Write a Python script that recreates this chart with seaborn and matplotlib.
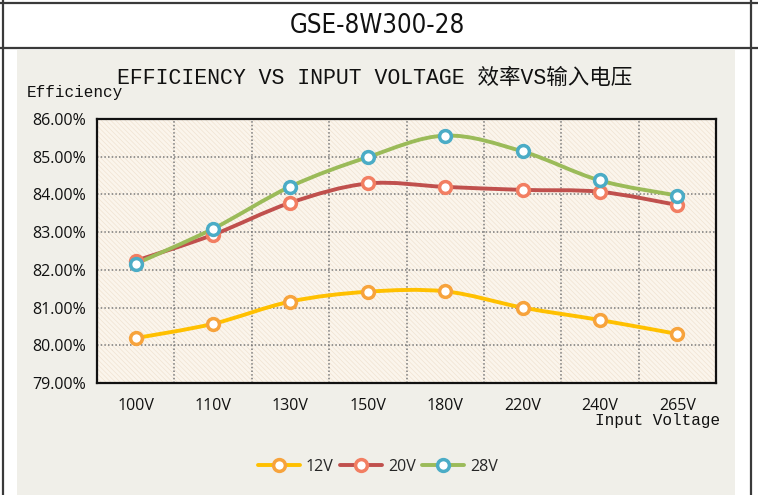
import numpy as np
import pandas as pd
import seaborn as sns
import matplotlib.pyplot as plt
from matplotlib.path import Path
from matplotlib.patches import PathPatch, Rectangle
from matplotlib.lines import Line2D

voltages = ["100V", "110V", "130V", "150V", "180V", "220V", "240V", "265V"]
eff_12v = [80.19, 80.57, 81.16, 81.42, 81.43, 81.00, 80.67, 80.30]
eff_20v = [82.24, 82.93, 83.78, 84.29, 84.20, 84.12, 84.07, 83.72]
eff_28v = [82.16, 83.09, 84.21, 84.99, 85.56, 85.14, 84.37, 83.97]
series_names = ["12V", "20V", "28V"]
y_ticks = [79, 80, 81, 82, 83, 84, 85, 86]

line_colors = {"12V": "#FFC000", "20V": "#C0504D", "28V": "#9BBB59"}
ring_colors = {"12V": "#F7A33C", "20V": "#F27E62", "28V": "#4BACC6"}

df = pd.DataFrame({
    "voltage": voltages * 3,
    "eff": eff_12v + eff_20v + eff_28v,
    "series": [s for s in series_names for _ in voltages],
})

sns.set_style("white")
plt.rcParams["hatch.linewidth"] = 0.5
latin_cjk = ["Liberation Mono", "Noto Sans CJK SC"]

W, H = 758, 495
fig = plt.figure(figsize=(W / 100, H / 100), dpi=100)
fig.patch.set_facecolor("white")

# grey chart panel and table frame
fig.add_artist(Rectangle((17 / W, 0), (735 - 17) / W, 1 - 50 / H,
                         transform=fig.transFigure, facecolor="#F0EFE9",
                         edgecolor="none", zorder=0))
for x in (3, 751):
    fig.add_artist(Line2D([x / W, x / W], [0, 1], transform=fig.transFigure,
                          color="#3A3A3A", lw=1.6))
for y in (3, 48):
    fig.add_artist(Line2D([0, 1], [1 - y / H, 1 - y / H],
                          transform=fig.transFigure, color="#3A3A3A", lw=1.6))

fig.text(377 / W, 1 - 26 / H, "GSE-8W300-28", ha="center", va="center",
         fontsize=18.5, family=["DejaVu Sans"], fontstretch="condensed",
         color="#111111")

ax = fig.add_axes([97 / W, 1 - 383 / H, (716 - 97) / W, (383 - 119) / H])
ax.set_facecolor("#FBF5EC")
ax.add_patch(Rectangle((0, 0), 1, 1, transform=ax.transAxes, fill=False,
                       hatch="\\" * 7, edgecolor="#F0E3D2", lw=0, zorder=0))

# smoothed lines (Excel-style cubic Bezier through the points)
for name, vals in zip(series_names, [eff_12v, eff_20v, eff_28v]):
    pts = np.column_stack([np.arange(len(vals)), vals])
    verts = [tuple(pts[0])]
    codes = [Path.MOVETO]
    n = len(pts)
    for i in range(n - 1):
        p0 = pts[max(i - 1, 0)]
        p1 = pts[i]
        p2 = pts[i + 1]
        p3 = pts[min(i + 2, n - 1)]
        c1 = p1 + (p2 - p0) / 6
        c2 = p2 - (p3 - p1) / 6
        verts += [tuple(c1), tuple(c2), tuple(p2)]
        codes += [Path.CURVE4] * 3
    ax.add_patch(PathPatch(Path(verts, codes), fill=False,
                           edgecolor=line_colors[name], lw=2.8,
                           capstyle="round", zorder=3))

for name in series_names:
    sub = df[df["series"] == name]
    sns.lineplot(data=sub, x="voltage", y="eff", ax=ax, lw=0, marker="o",
                 markersize=8.5, markerfacecolor="white",
                 markeredgecolor=ring_colors[name], markeredgewidth=2.5,
                 zorder=4, legend=False)

ax.set_xlim(-0.5, len(voltages) - 0.5)
ax.set_ylim(79, 86)
ax.set_yticks(y_ticks)
ax.set_yticklabels([f"{v:.2f}%" for v in y_ticks])
ax.set_xlabel("")
ax.set_ylabel("")
for v in y_ticks[1:-1]:
    ax.axhline(v, color="#7A7A7A", lw=1.1, ls=(0, (1.0, 1.4)), zorder=1)
for i in range(len(voltages) - 1):
    ax.axvline(i + 0.5, color="#7A7A7A", lw=1.1, ls=(0, (1.0, 1.4)), zorder=1)
ax.tick_params(length=0, labelsize=11.5, colors="#111111")
ax.tick_params(axis="y", pad=8)
ax.tick_params(axis="x", pad=11)
for lab in ax.get_xticklabels() + ax.get_yticklabels():
    lab.set_family("Open Sans")
for sp in ax.spines.values():
    sp.set_visible(True)
    sp.set_color("#111111")
    sp.set_linewidth(1.6)

fig.text(375 / W, 1 - 78 / H, "EFFICIENCY VS INPUT VOLTAGE 效率VS输入电压",
         ha="center", va="center", fontsize=15.5, family=latin_cjk,
         color="#111111")
fig.text(27 / W, 1 - 92 / H, "Efficiency", ha="left", va="center",
         fontsize=11.5, family=latin_cjk, color="#111111")
fig.text(720 / W, 1 - 421 / H, "Input Voltage", ha="right", va="center",
         fontsize=11.5, family=latin_cjk, color="#111111")

handles = [Line2D([], [], color=line_colors[n], lw=2.8, marker="o",
                  markersize=8.5, markerfacecolor="white",
                  markeredgecolor=ring_colors[n], markeredgewidth=2.5)
           for n in series_names]
leg = fig.legend(handles, series_names, loc="center",
                 bbox_to_anchor=(378 / W, 1 - 467 / H), ncol=3, frameon=False,
                 handlelength=2.6, handletextpad=0.4, columnspacing=0.4,
                 prop={"family": "Open Sans", "size": 11.5})

fig.savefig("out.png", dpi=100)
